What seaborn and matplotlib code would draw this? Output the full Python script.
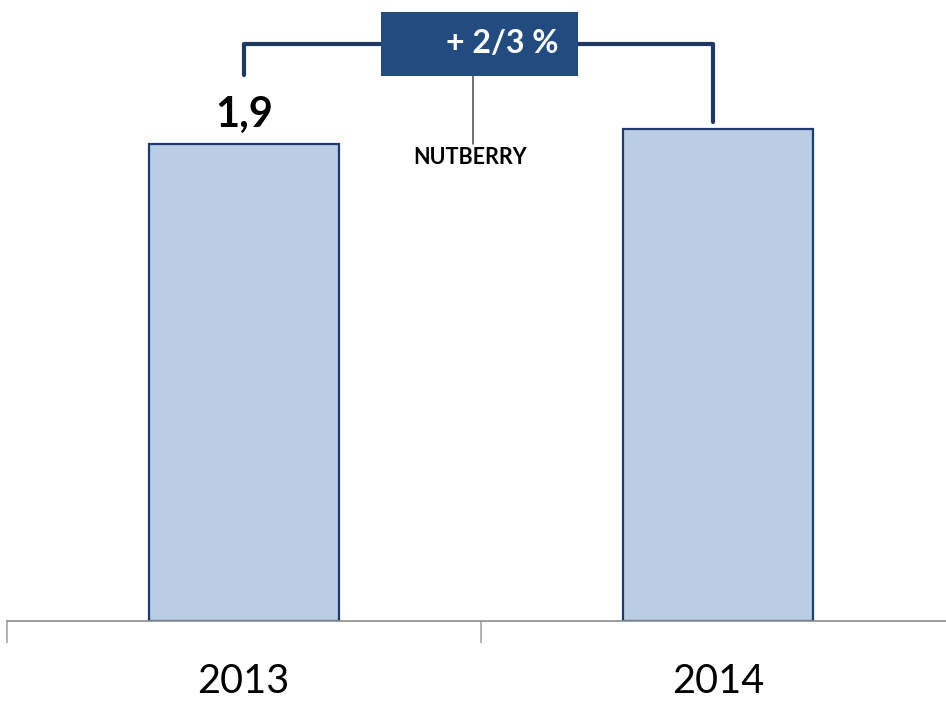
import pandas as pd
import matplotlib.pyplot as plt
from matplotlib.patches import Rectangle
import seaborn as sns

# data
years = ["2013", "2014"]
values = [1.9, 1.96]
value_labels = ["1,9", ""]
change_label = "+ 2/3 %"
brand_label = "NUTBERRY"

df = pd.DataFrame({"year": years, "value": values})

sns.set_style("white")
plt.rcParams['font.family'] = ['Lato', 'DejaVu Sans']

fig = plt.figure(figsize=(9.46, 7.01), dpi=100)
# axes spans from x=6.5px to the right edge, baseline at y=621px
ax = fig.add_axes([6.5 / 946, 80 / 701, 1 - 6.5 / 946, 621 / 701])

sns.barplot(data=df, x="year", y="value", width=0.4, color="#B9CDE5",
            saturation=1, edgecolor="#1F3A6E", linewidth=1.6, ax=ax)

# category separators as ticks (set before limits so they don't widen the view)
ax.set_xticks([-0.5, 0.5])
ax.set_xticklabels([])
ax.set_xlim(-0.5, 1.48)
ax.set_ylim(0, 2.474)
ax.set_xlabel("")
ax.set_ylabel("")
ax.set_yticks([])
ax.tick_params(axis="x", bottom=True, length=16, width=1.2, color="#A6A6A6",
               direction="out")
for s in ["top", "right", "left"]:
    ax.spines[s].set_visible(False)
ax.spines["bottom"].set_color("#8C8C8C")
ax.spines["bottom"].set_linewidth(1.2)

# year labels
for i, y in enumerate(years):
    ax.text(i, -0.288, y, ha="center", va="baseline", fontsize=28.5, color="black")

# value label
for i, lab in enumerate(value_labels):
    if lab:
        ax.text(i, values[i] + 0.07, lab, ha="center", va="baseline",
                fontsize=30, fontweight="bold", color="black")

# bracket
navy = "#1F3864"
yb = 2.299
ax.plot([0, 0, 0.99, 0.99], [2.175, yb, yb, 1.988], color=navy, lw=3,
        solid_capstyle="round", solid_joinstyle="round", zorder=3)

# label box
ax.add_patch(Rectangle((0.289, 2.171), 0.416, 0.255, facecolor="#224B7F",
                       edgecolor="none", zorder=4))
ax.text(0.545, yb, change_label, ha="center", va="center", fontsize=23,
        fontweight="bold", color="white", zorder=5)

# brand pointer
ax.plot([0.483, 0.483], [2.171, 1.90], color="#595959", lw=1.2, zorder=3)
ax.text(0.478, 1.845, brand_label, ha="center", va="center", fontsize=15.5,
        fontweight="bold", color="black")

fig.savefig("out.png", dpi=100)
